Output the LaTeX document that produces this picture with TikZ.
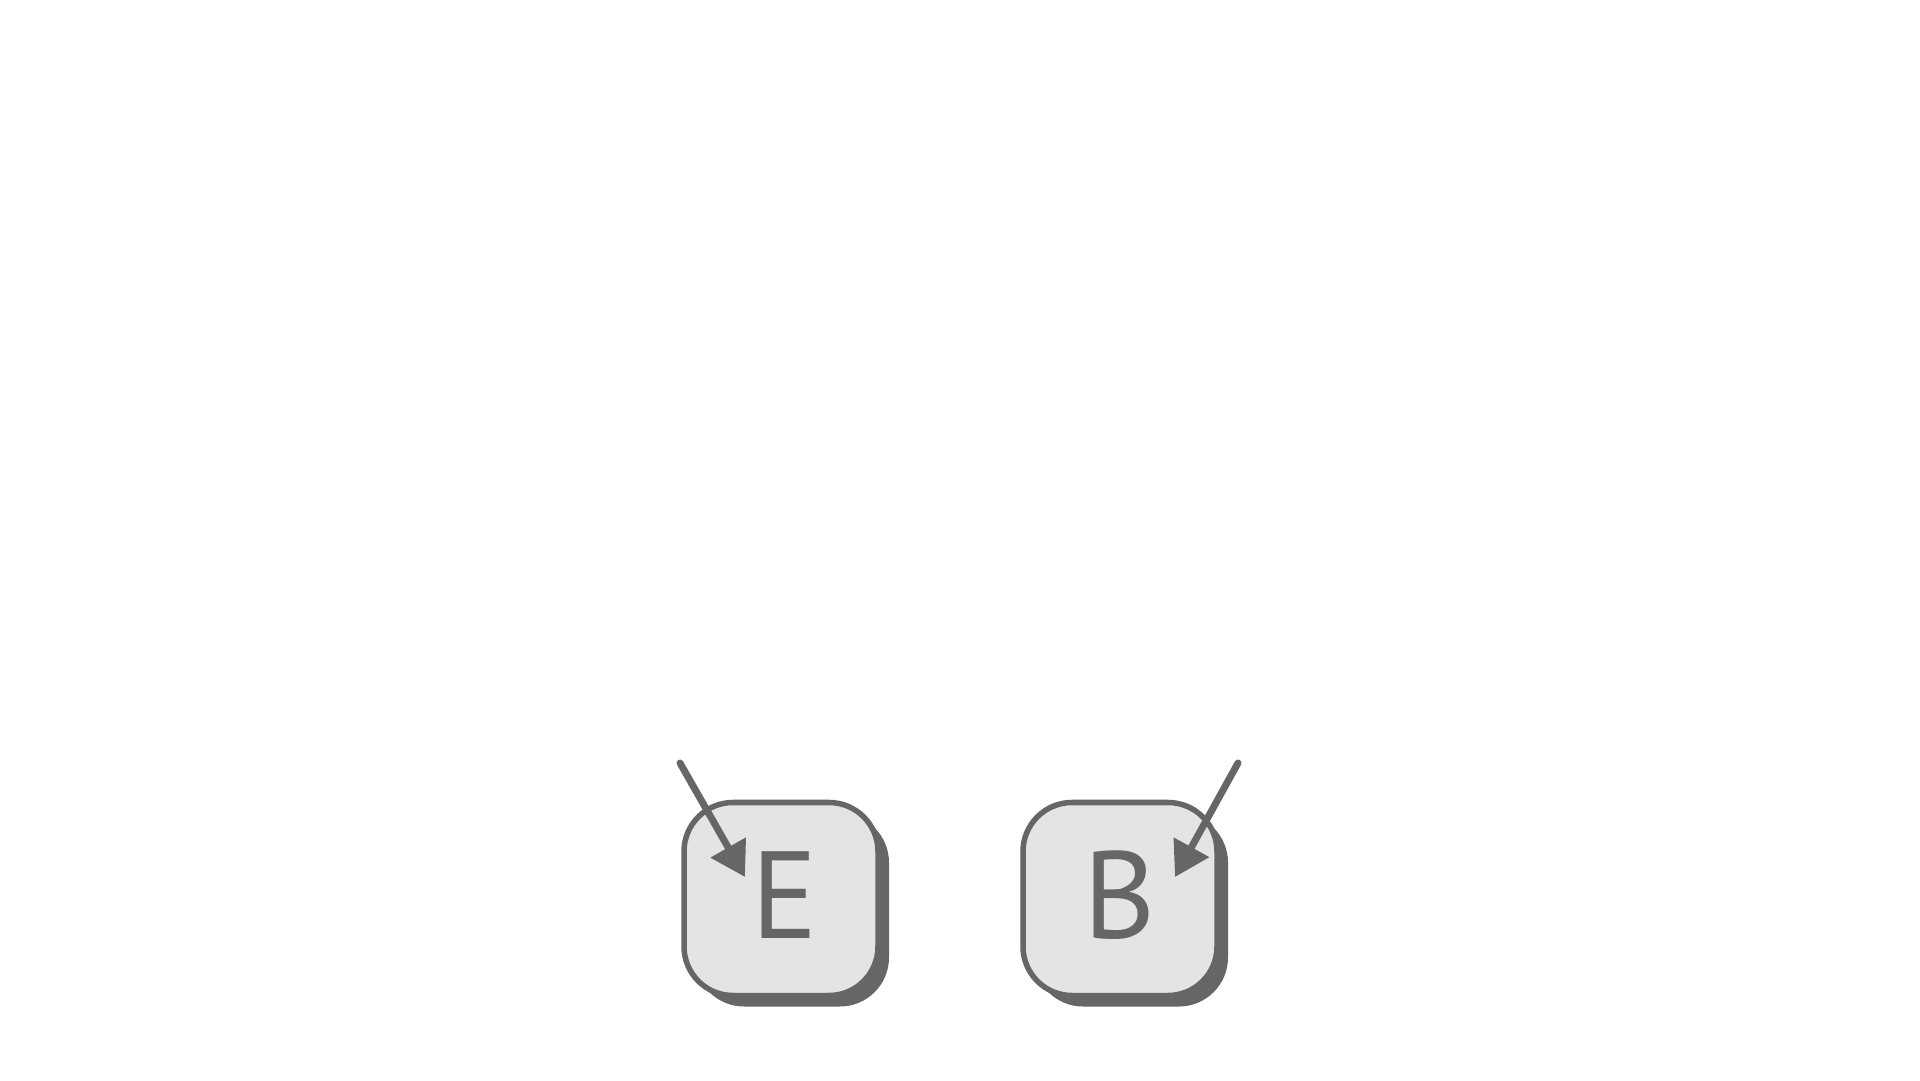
\documentclass[tikz,border=0pt]{standalone}
\usepackage{fontspec}
\setmainfont{PT Sans}
\usepackage{tikz}
\usetikzlibrary{arrows.meta, shadows}
\definecolor{keyedge}{RGB}{102, 102, 102}
\definecolor{keyface}{RGB}{228, 228, 228}

\begin{document}
\begin{tikzpicture}[x=1pt, y=1pt,
		key/.style={draw=keyedge, fill=keyface, line width=5.5pt,
			rounded corners=49pt, minimum width=194pt, minimum height=193pt,
			text=keyedge, font=\fontsize{124}{130}\selectfont,
			text height=87pt, text depth=8pt, inner sep=0pt,
			drop shadow={shadow xshift=11pt, shadow yshift=-11pt, fill=keyedge, opacity=1}},
		keyarrow/.style={draw=keyedge, line width=7pt, line cap=round,
			-{Triangle[length=34pt, width=39pt]}}]
			\useasboundingbox (0,0) rectangle (1920,1080);
			% the two keys
			\node[key] (keyE) at (781, 181) {\hspace{7pt}E};
			\node[key] (keyB) at (1120, 181) {B};

			% arrow ends
			\coordinate (tailE) at (680, 317);
			\coordinate (tipE) at (745, 203);
			\coordinate (tailB) at (1238, 317);
			\coordinate (tipB) at (1175, 203);

			\draw[keyarrow] (tailE) -- (tipE);
			\draw[keyarrow] (tailB) -- (tipB);
		\end{tikzpicture}
\end{document}
